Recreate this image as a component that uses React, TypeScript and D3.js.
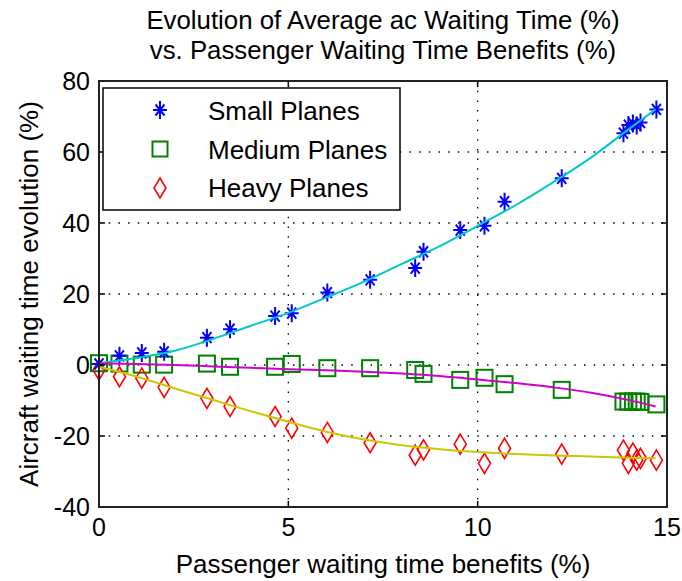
import React from "react";
import * as d3 from "d3";

const xTicks = [0, 5, 10, 15];
const yTicks = [-40, -20, 0, 20, 40, 60, 80];
const xGrid = [5, 10];
const yGrid = [-20, 0, 20, 40, 60];

const runX = [0, 0.54, 1.13, 1.72, 2.85, 3.46, 4.65, 5.09, 6.03, 7.16, 8.35, 8.57, 9.54, 10.18, 10.71, 12.22, 13.85, 13.98, 14.1, 14.2, 14.3, 14.72];
const smallY = [0.3, 2.6, 3.4, 3.7, 7.7, 10.1, 13.8, 14.6, 20.4, 24, 27.3, 31.9, 38, 39.2, 46, 52.6, 65.3, 67.6, 68, 67.5, 68.3, 72];
const mediumY = [0.5, 0.4, 0.1, 0.1, 0.4, -0.5, -0.5, 0.3, -0.9, -0.9, -1.4, -2.5, -4.2, -3.6, -5.4, -7, -10.3, -10.3, -10.3, -10.3, -10.4, -11.1];
const heavyY = [-1.4, -3.3, -3.7, -6.3, -9.4, -11.7, -14.5, -17.8, -19, -21.9, -25.4, -23.9, -22.3, -27.7, -23.5, -25.1, -24, -27.7, -24.8, -26.8, -26.3, -26.8];

const fitX = [0, 1, 2, 3, 4, 5, 6, 7, 8, 9, 10, 11, 12, 13, 14, 14.7];
const smallFit = [0.5, 2, 4, 7.3, 11, 14.7, 19, 23.5, 28.5, 33.5, 39.2, 45, 51.5, 58.5, 66.5, 72];
const mediumFit = [0.5, 0.3, 0, -0.4, -0.8, -1.2, -1.5, -1.9, -2.4, -3.1, -4.1, -5.1, -6.3, -7.8, -9.9, -11.7];
const heavyFit = [-0.5, -3.3, -6.6, -9.8, -13, -16, -18.8, -21, -22.6, -23.7, -24.5, -25.1, -25.5, -25.8, -26.1, -26.3];

const legendLabels = ["Small Planes", "Medium Planes", "Heavy Planes"];
const titleLines = ["Evolution of Average ac Waiting Time (%)", "vs. Passenger Waiting Time Benefits (%)"];
const xLabel = "Passenger waiting time benefits (%)";
const yLabel = "Aircraft waiting time evolution (%)";

const W = 682, H = 581;
const L = 99, R = 667, T = 81, B = 507;
const FONT = "'Liberation Sans', Arial, sans-serif";

const BLUE = "#0000ff", GREEN = "#008000", RED = "#ff0000";
const CYAN = "#00c8c8", MAGENTA = "#d000d0", YELLOW = "#c8c800";

function Star({ x, y }: { x: number; y: number }) {
  const h = 7, v = 9, dx = 4.5, dy = 5.5;
  const d = `M${x - h},${y}L${x + h},${y}M${x},${y - v}L${x},${y + v}M${x - dx},${y - dy}L${x + dx},${y + dy}M${x - dx},${y + dy}L${x + dx},${y - dy}`;
  return <path d={d} stroke={BLUE} strokeWidth={2} fill="none" />;
}
function Square({ x, y, s = 16 }: { x: number; y: number; s?: number }) {
  return <rect x={x - s / 2} y={y - s / 2} width={s} height={s} stroke={GREEN} strokeWidth={2} fill="none" />;
}
function Diamond({ x, y }: { x: number; y: number }) {
  const w = 6, h = 10;
  const d = `M${x},${y - h}L${x + w},${y}L${x},${y + h}L${x - w},${y}Z`;
  return <path d={d} stroke={RED} strokeWidth={1.6} fill="none" />;
}

export default function App() {
  const xs = d3.scaleLinear().domain([0, 15]).range([L, R]);
  const ys = d3.scaleLinear().domain([-40, 80]).range([B, T]);
  const line = d3.line<[number, number]>().x((d) => xs(d[0])).y((d) => ys(d[1])).curve(d3.curveMonotoneX);
  const fit = (arr: number[]) => line(fitX.map((x, i) => [x, arr[i]] as [number, number])) || "";

  return (
    <svg width={W} height={H} style={{ position: "absolute", left: 0, top: 0, background: "#fff" }} fontFamily={FONT}>
      <rect x={0} y={0} width={W} height={H} fill="#fff" />
      {/* grid */}
      {xGrid.map((v) => (
        <line key={"gx" + v} x1={xs(v)} x2={xs(v)} y1={T} y2={B} stroke="#000" strokeWidth={1.3} strokeDasharray="1.5 8.2" />
      ))}
      {yGrid.map((v) => (
        <line key={"gy" + v} x1={L} x2={R} y1={ys(v)} y2={ys(v)} stroke="#000" strokeWidth={1.3} strokeDasharray="1.5 8.2" />
      ))}
      {/* markers */}
      {runX.map((x, i) => <Square key={"m" + i} x={xs(x)} y={ys(mediumY[i])} />)}
      {runX.map((x, i) => <Diamond key={"h" + i} x={xs(x)} y={ys(heavyY[i])} />)}
      {runX.map((x, i) => <Star key={"s" + i} x={xs(x)} y={ys(smallY[i])} />)}
      {/* fits */}
      <path d={fit(smallFit)} stroke={CYAN} strokeWidth={2} fill="none" />
      <path d={fit(mediumFit)} stroke={MAGENTA} strokeWidth={2} fill="none" />
      <path d={fit(heavyFit)} stroke={YELLOW} strokeWidth={2} fill="none" />
      {/* ticks */}
      {xTicks.map((v) => (
        <g key={"tx" + v}>
          <line x1={xs(v)} x2={xs(v)} y1={B} y2={B - 6} stroke="#000" strokeWidth={1.5} />
          <line x1={xs(v)} x2={xs(v)} y1={T} y2={T + 6} stroke="#000" strokeWidth={1.5} />
          <text x={xs(v)} y={B + 29} fontSize={25} textAnchor="middle" fill="#000">{v}</text>
        </g>
      ))}
      {yTicks.map((v) => (
        <g key={"ty" + v}>
          <line x1={L} x2={L + 6} y1={ys(v)} y2={ys(v)} stroke="#000" strokeWidth={1.5} />
          <line x1={R} x2={R - 6} y1={ys(v)} y2={ys(v)} stroke="#000" strokeWidth={1.5} />
          <text x={L - 9} y={ys(v) + 9} fontSize={25} textAnchor="end" fill="#000">{v}</text>
        </g>
      ))}
      {/* frame */}
      <rect x={L} y={T} width={R - L} height={B - T} fill="none" stroke="#222" strokeWidth={2} />
      {/* legend */}
      <rect x={103} y={88} width={297} height={122} fill="#fff" stroke="#000" strokeWidth={1.5} />
      <Star x={160} y={110} />
      <Square x={160} y={149} s={15} />
      <Diamond x={160} y={188} />
      {legendLabels.map((t, i) => (
        <text key={t} x={208} y={120 + i * 38.5} fontSize={26} fill="#000">{t}</text>
      ))}
      {/* titles */}
      {titleLines.map((t, i) => (
        <text key={t} x={(L + R) / 2} y={29 + i * 30} fontSize={25.8} textAnchor="middle" fill="#000">{t}</text>
      ))}
      <text x={(L + R) / 2} y={573} fontSize={26} textAnchor="middle" fill="#000">{xLabel}</text>
      <text transform={`translate(38, ${(T + B) / 2}) rotate(-90)`} fontSize={26} textAnchor="middle" fill="#000">{yLabel}</text>
    </svg>
  );
}
